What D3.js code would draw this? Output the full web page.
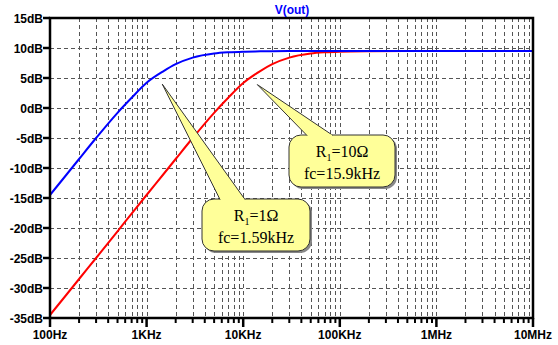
<!DOCTYPE html>
<html><head><meta charset="utf-8">
<script src="https://cdn.jsdelivr.net/npm/d3@7"></script>
<style>body{margin:0;background:#fff}svg{display:block}</style>
</head><body>
<script>
const freqs = [100,150,200,300,500,700,1000,1500,2000,3000,5000,7000,10000,15000,20000,30000,50000,70000,100000,200000,500000,1e6,1e7];
const blueDb = [-14.5,-11.0,-8.5,-5.0,-0.8,1.7,4.2,6.15,7.3,8.4,9.08,9.28,9.39,9.44,9.47,9.49,9.5,9.5,9.5,9.5,9.5,9.5,9.5];
const redDb = [-34.5,-31.0,-28.5,-25.0,-20.55,-17.6,-14.5,-11.0,-8.5,-5.0,-0.8,1.7,4.15,6.15,7.3,8.4,9.08,9.28,9.39,9.47,9.5,9.5,9.5];
const xTicks = [100,1e3,1e4,1e5,1e6,1e7];
const xTickLabels = ["100Hz","1KHz","10KHz","100KHz","1MHz","10MHz"];
const yTicks = [15,10,5,0,-5,-10,-15,-20,-25,-30,-35];
const yTickLabels = ["15dB","10dB","5dB","0dB","-5dB","-10dB","-15dB","-20dB","-25dB","-30dB","-35dB"];
const title = "V(out)";
const notes = [
  {sub:"1", r:"1Ω", fc:"fc=1.59kHz"},
  {sub:"1", r:"10Ω", fc:"fc=15.9kHz"}
];

const W=558,H=345, L=50, R=533, T=18, B=318;
const svg=d3.select("body").append("svg").attr("width",W).attr("height",H);
const x=d3.scaleLog().domain([100,1e7]).range([L,R]);
const y=d3.scaleLinear().domain([-35,15]).range([B,T]);

// grid
const minor=[];
for(let d=100; d<1e7; d*=10){ for(let k=2;k<=9;k++) minor.push(d*k); }
const g=svg.append("g");
g.selectAll(".vg").data(minor.concat(xTicks.slice(1,-1))).enter().append("line")
  .attr("x1",d=>Math.round(x(d))+0.5).attr("x2",d=>Math.round(x(d))+0.5).attr("y1",T).attr("y2",B)
  .attr("stroke","#555").attr("stroke-width",1).attr("stroke-dasharray","4,3");
g.selectAll(".hg").data(yTicks.slice(1,-1)).enter().append("line")
  .attr("y1",d=>Math.round(y(d))+0.5).attr("y2",d=>Math.round(y(d))+0.5).attr("x1",L).attr("x2",R)
  .attr("stroke","#555").attr("stroke-width",1).attr("stroke-dasharray","4,3");

// curves
const line=d3.line().x(d=>x(d[0])).y(d=>y(d[1])).curve(d3.curveMonotoneX);
svg.append("path").attr("d",line(freqs.map((f,i)=>[f,redDb[i]]))).attr("fill","none").attr("stroke","#ff0000").attr("stroke-width",2);
svg.append("path").attr("d",line(freqs.map((f,i)=>[f,blueDb[i]]))).attr("fill","none").attr("stroke","#0000ff").attr("stroke-width",2);

// frame
svg.append("rect").attr("x",L).attr("y",T).attr("width",R-L).attr("height",B-T).attr("fill","none").attr("stroke","#000").attr("stroke-width",2.5);

// y ticks
svg.selectAll(".yt").data(yTicks).enter().append("line")
  .attr("x1",L-7).attr("x2",L).attr("y1",d=>y(d)).attr("y2",d=>y(d)).attr("stroke","#000").attr("stroke-width",2.5);
svg.selectAll(".yl").data(yTicks).enter().append("text")
  .attr("x",L-7).attr("y",d=>y(d)+4.5).attr("text-anchor","end")
  .style("font","bold 12px 'Liberation Sans', Arial, sans-serif").attr("fill","#000")
  .text((d,i)=>yTickLabels[i]);
// x ticks
svg.selectAll(".xm").data(minor).enter().append("line")
  .attr("x1",d=>x(d)).attr("x2",d=>x(d)).attr("y1",B).attr("y2",B+5).attr("stroke","#000").attr("stroke-width",2);
svg.selectAll(".xt").data(xTicks).enter().append("line")
  .attr("x1",d=>x(d)).attr("x2",d=>x(d)).attr("y1",B).attr("y2",B+9).attr("stroke","#000").attr("stroke-width",2.5);
svg.selectAll(".xl").data(xTicks).enter().append("text")
  .attr("x",d=>x(d)).attr("y",339).attr("text-anchor","middle")
  .style("font","bold 12px 'Liberation Sans', Arial, sans-serif").attr("fill","#000")
  .text((d,i)=>xTickLabels[i]);

// title
svg.append("text").attr("x",292).attr("y",14).attr("text-anchor","middle")
  .style("font","bold 12px 'Liberation Sans', Arial, sans-serif").attr("fill","#0000ff").text(title);

// callouts
const boxes=[
  {x0:202,y0:199,w:108,h:52,b1:220,b2:245,tipF:1450,tipDb:4},
  {x0:289,y0:135,w:106,h:52,b1:307,b2:333,tipF:14000,tipDb:3.9}
];
boxes.forEach((b,i)=>{
  const n=notes[i];
  const tx=x(b.tipF), ty=y(b.tipDb);
  const gg=svg.append("g");
  gg.append("rect").attr("x",b.x0+2).attr("y",b.y0+2).attr("width",b.w).attr("height",b.h).attr("rx",12).attr("fill","#888");
  gg.append("rect").attr("x",b.x0).attr("y",b.y0).attr("width",b.w).attr("height",b.h).attr("rx",12)
    .attr("fill","#ffff99").attr("stroke","#333").attr("stroke-width",1);
  gg.append("path").attr("d",`M${b.b1},${b.y0+0.5}L${tx},${ty}L${b.b2},${b.y0+0.5}`)
    .attr("fill","#ffff99").attr("stroke","#333").attr("stroke-width",1);
  gg.append("rect").attr("x",b.b1+0.8).attr("y",b.y0-0.5).attr("width",b.b2-b.b1-1.6).attr("height",2).attr("fill","#ffff99");
  const cx=b.x0+b.w/2;
  const t1=gg.append("text").attr("x",cx).attr("y",b.y0+22).attr("text-anchor","middle")
    .style("font","16px 'Liberation Serif', 'Times New Roman', serif").attr("fill","#000");
  t1.append("tspan").text("R");
  t1.append("tspan").attr("dy",4).style("font-size","10px").text(n.sub);
  t1.append("tspan").attr("dy",-4).text("="+n.r);
  gg.append("text").attr("x",cx).attr("y",b.y0+44).attr("text-anchor","middle")
    .style("font","16px 'Liberation Serif', 'Times New Roman', serif").attr("fill","#000").text(n.fc);
});
</script>
</body></html>
